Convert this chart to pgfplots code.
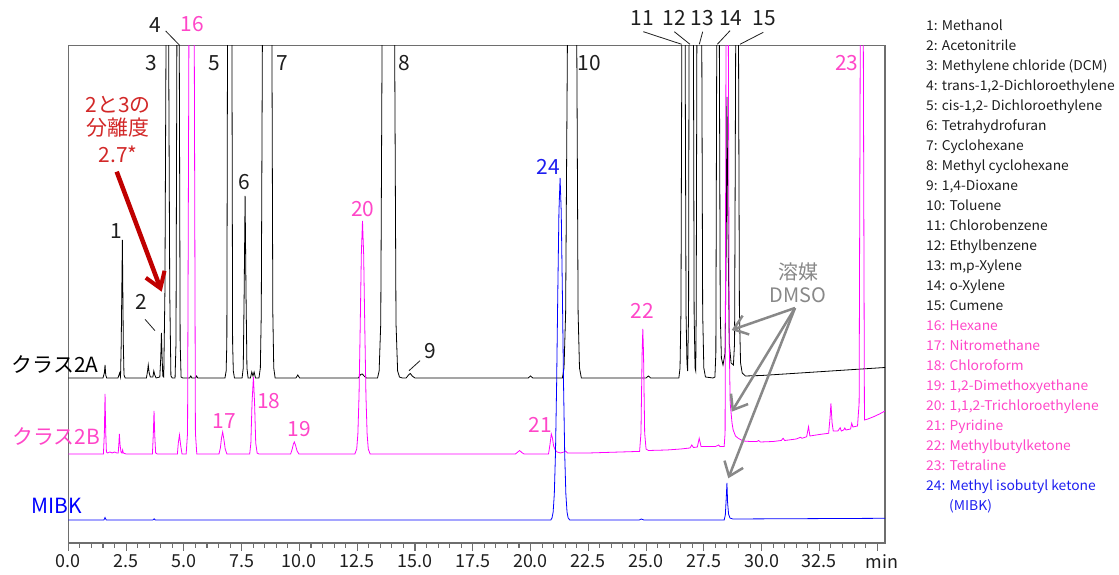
\documentclass[border=0pt]{standalone}
\usepackage{fontspec}
\setmainfont{Noto Sans CJK JP}
\newfontfamily\legfont[FakeStretch=1.03]{Noto Sans CJK JP}
\usepackage{pgfplots}
\pgfplotsset{compat=1.18}
\usetikzlibrary{arrows.meta}
\definecolor{trA}{RGB}{0,0,0}
\definecolor{trB}{RGB}{255,0,255}
\definecolor{trC}{RGB}{0,0,255}
\definecolor{pinklab}{RGB}{255,70,200}
\definecolor{bluelab}{RGB}{30,30,240}
\definecolor{framegray}{RGB}{110,110,110}
\definecolor{arrowgray}{RGB}{136,136,136}
\definecolor{darkred}{RGB}{192,0,0}
\definecolor{redtext}{RGB}{210,40,40}
\definecolor{legblack}{RGB}{30,30,30}
\begin{document}
\begin{tikzpicture}[x=1bp,y=1bp]
\path[use as bounding box] (0,0) rectangle (1119,575);
\begin{axis}[
  at={(68.3bp,32bp)}, anchor=south west,
  width=816.7bp, height=497.4bp, scale only axis,
  xmin=0, xmax=35.34, ymin=0, ymax=497.4,
  axis line style={framegray, line width=1.2bp},
  xtick={0,2.5,5,7.5,10,12.5,15,17.5,20,22.5,25,27.5,30,32.5,35},
  xticklabels={0.0,2.5,5.0,7.5,10.0,12.5,15.0,17.5,20.0,22.5,25.0,27.5,30.0,32.5,\hspace*{10bp}min},
  minor x tick num=4,
  xtick pos=bottom, ytick=\empty,
  tick align=outside,
  major tick length=8bp, minor tick length=5bp,
  tick style={framegray, line width=1.1bp},
  xticklabel style={font=\fontsize{18}{20}\selectfont, text=legblack},
  /pgf/number format/assume math mode=true,
]
% Class 2A (black)
\addplot[trA, line width=0.8bp, sharp plot] coordinates {
(0,165)(1.50,165)(1.56,170)(1.59,178)(1.62,168)(1.66,165)
(2.15,165)(2.22,170)(2.26,166)(2.29,200)(2.34,303)(2.38,200)(2.41,168)(2.46,165)
(3.38,165)(3.43,172)(3.46,178)(3.50,170)(3.55,166)
(3.66,166)(3.70,172)(3.74,168)(3.80,165)
(3.96,166)(4.00,185)(4.03,210)(4.06,185)(4.09,167)
(4.13,166)(4.18,250)(4.23,510)(4.34,510)(4.39,250)(4.44,167)(4.50,165)
(4.62,165)(4.66,200)(4.70,510)(4.80,510)(4.84,200)(4.88,166)(4.95,165)
(5.25,165)(5.30,167)(5.35,165)(5.50,165)(5.55,167)(5.60,165)
(6.78,165)(6.83,172)(6.86,200)(6.89,510)(7.08,510)(7.11,200)(7.14,172)(7.19,165)
(7.52,165)(7.57,175)(7.61,250)(7.65,347)(7.69,250)(7.73,175)(7.78,165)
(7.88,165)(7.94,171)(7.99,167)(8.04,171)(8.10,165)
(8.25,165)(8.31,175)(8.35,230)(8.40,510)(8.81,510)(8.85,230)(8.89,175)(8.95,165)
(9.85,165)(9.93,168)(10.01,165)
(12.55,165)(12.65,168.5)(12.72,169)(12.80,167)(12.90,165)
(13.38,165)(13.45,172)(13.52,220)(13.58,510)(14.12,510)(14.18,220)(14.25,172)(14.33,166)(14.45,165)
(14.62,165)(14.72,168)(14.80,169.5)(14.88,167)(15.0,165)
(19.9,165)(20.0,167)(20.1,165)
(21.38,165)(21.45,175)(21.52,230)(21.60,510)(22.00,510)(22.06,230)(22.12,175)(22.20,165)
(25.0,165)(25.1,167)(25.2,165)
(26.42,165)(26.47,175)(26.51,230)(26.55,510)(26.69,510)(26.73,230)(26.77,180)(26.80,172)
(26.84,230)(26.86,510)(27.05,510)(27.08,230)(27.12,175)(27.15,172)
(27.17,230)(27.20,510)(27.41,510)(27.45,230)(27.50,175)(27.57,166)(27.90,165)
(27.98,166)(28.02,190)(28.06,510)(28.17,510)(28.21,230)(28.26,185)(28.33,178)
(28.42,190)(28.47,300)(28.50,446)(28.54,330)(28.60,200)(28.68,180)(28.78,178)
(28.83,200)(28.88,510)(29.00,510)(29.04,230)(29.09,180)(29.16,170)(29.30,167)
(30,167.5)(31,169)(32,170.5)(33,172)(34,173.5)(35.34,175.5)
};
% Class 2B (magenta)
\addplot[trB, line width=0.8bp, sharp plot] coordinates {
(0,89)(1.52,89)(1.56,110)(1.59,149)(1.62,110)(1.65,91)(1.70,90)(1.80,91)(1.90,90)(2.00,91)(2.10,90)
(2.16,90)(2.19,100)(2.21,109)(2.24,98)(2.28,91)(2.32,90)(2.35,93)(2.38,90)(2.50,89)
(3.64,89)(3.68,110)(3.71,132)(3.74,108)(3.78,90)(3.85,89)
(4.72,89)(4.76,100)(4.81,108)(4.86,98)(4.92,89)
(5.10,89)(5.16,110)(5.22,510)(5.45,510)(5.50,110)(5.56,89)
(6.52,89)(6.58,95)(6.63,105)(6.68,111)(6.73,104)(6.79,94)(6.86,89)
(7.85,89)(7.90,100)(7.95,140)(8.01,166)(8.06,140)(8.11,100)(8.17,90)(8.25,89)
(9.62,89)(9.69,94)(9.74,99)(9.78,101)(9.83,98)(9.90,92)(9.98,89)
(12.40,89)(12.48,94)(12.53,109)(12.58,147)(12.63,215)(12.68,289)(12.73,322)(12.78,289)(12.83,215)(12.88,147)(12.93,109)(12.98,94)(13.06,89)
(19.35,89)(19.45,91)(19.53,92.5)(19.62,90.5)(19.72,89)
(20.78,89)(20.84,98)(20.90,109)(20.95,105)(21.00,97)(21.07,93)(21.15,91)(21.30,90)(21.45,91)(21.52,92)(21.60,90)(22.5,90)(24.6,91.5)
(24.72,91.5)(24.78,110)(24.83,190)(24.86,214)(24.89,190)(24.94,110)(25.00,94)(25.10,92.5)
(25.9,93)(26.5,94)(26.90,95)(26.98,98)(27.05,95.5)(27.22,96)(27.30,104.7)(27.38,96.5)(28.00,96.5)(28.10,97.5)(28.14,98)(28.20,96.5)(28.38,96.5)
(28.42,110)(28.46,510)(28.56,510)(28.60,200)(28.64,140)(28.68,130)(28.72,120)(28.77,113)(28.87,107)(28.99,104.7)(29.2,102)(29.5,101.5)(29.8,101.5)(29.87,102.5)(29.95,101)
(30.5,101.5)(30.85,102.5)(30.93,104.7)(31.0,102.5)(31.5,104)(31.68,105.7)(31.75,104.7)(31.95,106.3)(32.03,116.3)(32.09,107)(32.5,108.5)(32.9,109.7)(32.96,125)(33.0,139.7)(33.05,120)(33.1,112)
(33.3,112)(33.4,115.3)(33.45,112)(33.55,113)(33.6,115)(33.65,113)(33.85,114)(33.9,119.7)(33.95,116)(34.15,117)(34.22,140)(34.27,510)(34.40,510)(34.45,123)(34.6,124)(34.85,126.3)(35.1,129)(35.34,132)
};
% MIBK (blue)
\addplot[trC, line width=0.8bp, sharp plot] coordinates {
(0,23)(1.54,23)(1.59,25.5)(1.64,23)(3.66,23)(3.71,24.2)(3.76,23)
(20.88,23)(20.93,25)(20.98,31)(21.03,49)(21.08,89)(21.13,158)(21.18,249)(21.23,331)(21.28,365)(21.33,331)(21.38,249)(21.43,158)(21.48,89)(21.53,49)(21.58,31)(21.63,25)(21.70,23)
(24.7,23)(24.8,24)(24.9,23)
(28.38,23)(28.43,28)(28.47,45)(28.50,60)(28.53,40)(28.57,29)(28.63,25)(28.75,24)
(35.34,24.7)
};
\end{axis}
% peak labels
\begin{scope}[every node/.style={font=\fontsize{21}{24}\selectfont, anchor=base, inner sep=0pt}]
\node[text=legblack] at (116,336.7) {1};
\node[text=legblack] at (141.7,265) {2};
\node[text=legblack] at (151.7,504) {3};
\node[text=legblack] at (155.8,542.7) {4};
\node[text=pinklab] at (192.5,543.3) {16};
\node[text=legblack] at (214.7,504) {5};
\node[text=legblack] at (282,504) {7};
\node[text=legblack] at (404,504) {8};
\node[text=legblack] at (244.5,385) {6};
\node[text=pinklab] at (362.8,358.3) {20};
\node[text=legblack] at (430.8,216.7) {9};
\node[text=pinklab] at (224,146.7) {17};
\node[text=pinklab] at (268.7,166.7) {18};
\node[text=pinklab] at (299,138.3) {19};
\node[text=legblack] at (589.5,504) {10};
\node[text=pinklab] at (846.8,504) {23};
\node[text=bluelab] at (548,400) {24};
\node[text=pinklab] at (642.5,256) {22};
\node[text=pinklab] at (540.3,142.7) {21};
\node[text=legblack] at (642.5,549) {11};
\node[text=legblack] at (674,549) {12};
\node[text=legblack] at (702.5,549) {13};
\node[text=legblack] at (730.8,549) {14};
\node[text=legblack] at (764.2,549) {15};
\end{scope}
% leader lines
\begin{scope}[line width=0.8bp, legblack]
\draw (165.7,544) -- (179.3,530);
\draw (145,255.7) -- (155,244.3);
\draw (420,214.3) -- (409,204.3);
\draw (643.3,543.3) -- (681.7,530.7);
\draw (674.3,543.3) -- (690,530.7);
\draw (702.7,543.3) -- (699.3,530.7);
\draw (730,544.3) -- (717.3,530.7);
\draw (763.3,542.7) -- (740,530.7);
\end{scope}
% trace names
\node[font=\fontsize{21}{24}\selectfont, anchor=base, inner sep=0pt, text=black] at (55,202) {クラス2A};
\node[font=\fontsize{21}{24}\selectfont, anchor=base, inner sep=0pt, text=pinklab] at (56,130) {クラス2B};
\node[font=\fontsize{21}{24}\selectfont, anchor=base, inner sep=0pt, text=trC] at (56.7,61.7) {MIBK};
% resolution annotation
\begin{scope}[every node/.style={font=\fontsize{21}{24}\selectfont, anchor=base, inner sep=0pt, text=redtext}]
\node at (118,462) {2と3の};
\node at (118,439) {分離度};
\node at (118,412) {2.7*};
\end{scope}
\draw[darkred, line width=4.5bp, -{Straight Barb[length=15bp, width=20bp, line width=4bp]}] (116.7,403.3) -- (161.7,283.3);
% DMSO annotation
\node[font=\fontsize{20}{22}\selectfont, anchor=base, inner sep=0pt, text=arrowgray] at (798,295) {溶媒};
\node[font=\fontsize{20}{22}\selectfont, anchor=base, inner sep=0pt, text=arrowgray] at (798,272) {DMSO};
\begin{scope}[arrowgray, line width=2.5bp, -{Straight Barb[length=13bp, width=20bp, line width=2.5bp]}]
\draw (795,267) -- (731.7,245);
\draw (795,267) -- (731.7,163.3);
\draw (795,267) -- (728.3,96.7);
\end{scope}
% compound list
\begin{scope}[every node/.style={font=\legfont\fontsize{13.5}{15}\selectfont, anchor=base west, inner sep=0pt}]
\node[text=legblack] at (926,544.3) {1: Methanol};
\node[text=legblack] at (926,524.3) {2: Acetonitrile};
\node[text=legblack] at (926,504.3) {3: Methylene chloride (DCM)};
\node[text=legblack] at (926,484.3) {4: trans-1,2-Dichloroethylene};
\node[text=legblack] at (926,464.3) {5: cis-1,2- Dichloroethylene};
\node[text=legblack] at (926,444.3) {6: Tetrahydrofuran};
\node[text=legblack] at (926,424.3) {7: Cyclohexane};
\node[text=legblack] at (926,404.3) {8: Methyl cyclohexane};
\node[text=legblack] at (926,384.3) {9: 1,4-Dioxane};
\node[text=legblack] at (926,364.3) {10: Toluene};
\node[text=legblack] at (926,344.3) {11: Chlorobenzene};
\node[text=legblack] at (926,324.3) {12: Ethylbenzene};
\node[text=legblack] at (926,304.3) {13: m,p-Xylene};
\node[text=legblack] at (926,284.3) {14: o-Xylene};
\node[text=legblack] at (926,264.3) {15: Cumene};
\node[text=pinklab] at (926,244.3) {16: Hexane};
\node[text=pinklab] at (926,224.3) {17: Nitromethane};
\node[text=pinklab] at (926,204.3) {18: Chloroform};
\node[text=pinklab] at (926,184.3) {19: 1,2-Dimethoxyethane};
\node[text=pinklab] at (926,164.3) {20: 1,1,2-Trichloroethylene};
\node[text=pinklab] at (926,144.3) {21: Pyridine};
\node[text=pinklab] at (926,124.3) {22: Methylbutylketone};
\node[text=pinklab] at (926,104.3) {23: Tetraline};
\node[text=bluelab] at (926,84.3) {24: Methyl isobutyl ketone};
\node[text=bluelab] at (949,64.3) {(MIBK)};
\end{scope}
\end{tikzpicture}
\end{document}
